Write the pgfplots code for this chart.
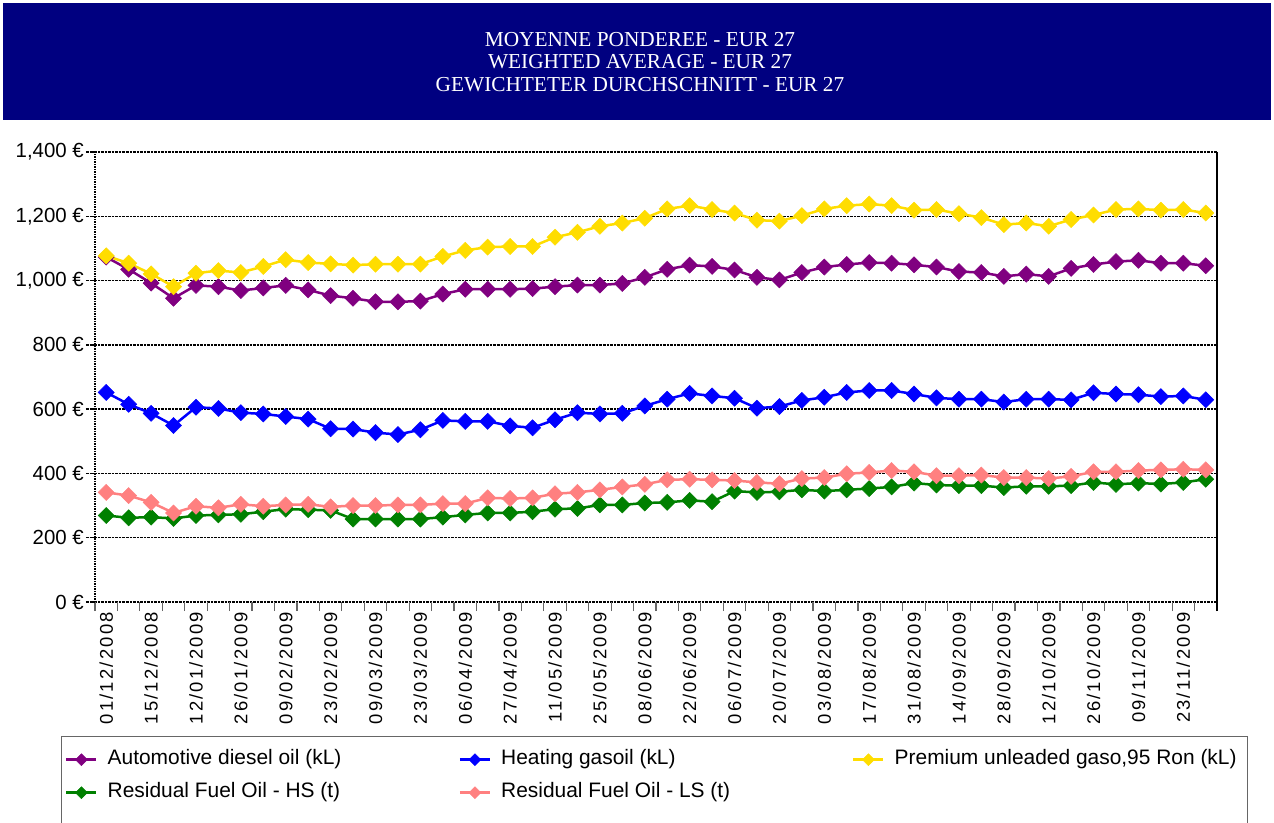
\documentclass[border=0pt]{standalone}
\usepackage{pgfplots}
\pgfplotsset{compat=1.18}
\usepackage{fontspec}
\setmainfont{Liberation Sans}
\newfontfamily\titlefont{Liberation Serif}
\newfontfamily\xlabfont[LetterSpace=12]{Liberation Sans}
\definecolor{navyc}{RGB}{0,0,128}
\definecolor{cdiesel}{RGB}{128,0,128}
\definecolor{cheat}{RGB}{0,0,255}
\definecolor{cprem}{RGB}{255,221,0}
\definecolor{chs}{RGB}{0,128,0}
\definecolor{cls}{RGB}{255,128,128}
\begin{document}
\begin{tikzpicture}
\useasboundingbox (0,0) rectangle (1274bp,823bp);
\fill[navyc] (3bp,703bp) rectangle (1271bp,820bp);
\node[text=white, font=\titlefont\fontsize{21.4}{22.5}\selectfont, align=center] at (640bp,761bp) {MOYENNE PONDEREE - EUR 27\\WEIGHTED AVERAGE - EUR 27\\GEWICHTETER DURCHSCHNITT - EUR 27};
\draw[black!60, line width=1bp] (61bp,0bp) -- (61bp,86bp) -- (1247bp,86bp) -- (1247bp,0bp);
\begin{axis}[
  at={(95bp,221bp)}, anchor=south west,
  width=1122bp, height=450bp, scale only axis,
  xmin=-0.5, xmax=49.5, ymin=0, ymax=1400,
  axis line style={draw=none},
  clip=false,
  /pgf/number format/assume math mode=true,
  ytick={0,200,...,1400},
  yticklabels={0~€,200~€,400~€,600~€,800~€,{1,000~€},{1,200~€},{1,400~€}},
  ytick pos=left,
  yticklabel style={font=\fontsize{20.5}{24}\selectfont, inner sep=2bp},
  xtick={0,2,...,48},
  xticklabels={01/12/2008,15/12/2008,12/01/2009,26/01/2009,09/02/2009,23/02/2009,09/03/2009,23/03/2009,06/04/2009,27/04/2009,11/05/2009,25/05/2009,08/06/2009,22/06/2009,06/07/2009,20/07/2009,03/08/2009,17/08/2009,31/08/2009,14/09/2009,28/09/2009,12/10/2009,26/10/2009,09/11/2009,23/11/2009},
  xtick pos=left,
  xticklabel style={rotate=90, anchor=east, font=\xlabfont\fontsize{18.5}{22}\selectfont, inner sep=1bp},
  minor xtick={-0.5,0.5,...,49.5},
  tick align=outside,
  major tick length=9bp, minor tick length=9bp,
  major x tick style={draw=none},
  minor x tick style={black!60, line width=1.2bp},
  y tick style={black, densely dotted, line width=1.5bp},
  ymajorgrids,
  major grid style={black, densely dotted, line width=1.5bp},
  legend columns=3,
  legend style={draw=none, fill=none, at={(-0.02674,-0.3289)}, anchor=north west,
     font=\fontsize{21}{24}\selectfont, inner sep=0pt, row sep=14bp,
     /tikz/every odd column/.append style={column sep=10bp},
     nodes={inner sep=0pt, text height=14bp, text depth=5bp}},
  legend image code/.code={\draw[mark repeat=2, mark phase=2, #1, mark size=4.2bp] plot coordinates {(0bp,0bp) (15bp,0bp) (30bp,0bp)};},
  every axis plot/.append style={line width=2.5bp, mark=square*, mark size=5.7bp, mark options={rotate=45, line width=0.5bp, solid}},
]
\draw[black, densely dotted, line width=1.5bp] (rel axis cs:0,0) -- (rel axis cs:0,1);
\draw[black, line width=1.2bp] ([yshift=-9bp]rel axis cs:1,0) -- (rel axis cs:1,1);

\addplot[cdiesel] coordinates {(0,1073) (1,1035) (2,992) (3,945) (4,985) (5,981) (6,969) (7,977) (8,985) (9,971) (10,953) (11,945) (12,934) (13,934) (14,936) (15,958) (16,973) (17,973) (18,973) (19,975) (20,981) (21,986) (22,986) (23,991) (24,1010) (25,1035) (26,1048) (27,1044) (28,1033) (29,1010) (30,1002) (31,1025) (32,1042) (33,1050) (34,1056) (35,1054) (36,1049) (37,1042) (38,1028) (39,1025) (40,1013) (41,1020) (42,1013) (43,1038) (44,1050) (45,1059) (46,1063) (47,1054) (48,1054) (49,1046)};
\addlegendentry{\makebox[351bp][l]{Automotive diesel oil (kL)}}

\addplot[cheat] coordinates {(0,652) (1,615) (2,587) (3,549) (4,606) (5,602) (6,589) (7,585) (8,577) (9,569) (10,539) (11,538) (12,527) (13,521) (14,536) (15,565) (16,562) (17,562) (18,548) (19,542) (20,567) (21,589) (22,585) (23,587) (24,610) (25,631) (26,649) (27,641) (28,634) (29,603) (30,608) (31,627) (32,637) (33,652) (34,658) (35,658) (36,647) (37,635) (38,631) (39,631) (40,622) (41,631) (42,631) (43,629) (44,651) (45,647) (46,645) (47,639) (48,641) (49,629)};
\addlegendentry{\makebox[351bp][l]{Heating gasoil (kL)}}

\addplot[cprem] coordinates {(0,1077) (1,1054) (2,1021) (3,981) (4,1023) (5,1031) (6,1025) (7,1044) (8,1065) (9,1056) (10,1052) (11,1048) (12,1051) (13,1051) (14,1051) (15,1075) (16,1094) (17,1104) (18,1106) (19,1106) (20,1135) (21,1150) (22,1169) (23,1179) (24,1194) (25,1223) (26,1233) (27,1221) (28,1210) (29,1188) (30,1185) (31,1202) (32,1223) (33,1233) (34,1238) (35,1233) (36,1219) (37,1221) (38,1208) (39,1196) (40,1174) (41,1179) (42,1169) (43,1190) (44,1204) (45,1221) (46,1223) (47,1219) (48,1221) (49,1210)};
\addlegendentry{Premium unleaded gaso,95 Ron (kL)}

\addplot[chs] coordinates {(0,269) (1,262) (2,264) (3,260) (4,269) (5,271) (6,273) (7,281) (8,289) (9,287) (10,285) (11,258) (12,258) (13,258) (14,258) (15,264) (16,271) (17,277) (18,277) (19,281) (20,289) (21,291) (22,302) (23,302) (24,308) (25,310) (26,316) (27,312) (28,345) (29,341) (30,343) (31,349) (32,345) (33,349) (34,353) (35,358) (36,370) (37,364) (38,362) (39,362) (40,356) (41,360) (42,360) (43,362) (44,372) (45,366) (46,370) (47,367) (48,372) (49,382)};
\addlegendentry{\makebox[351bp][l]{Residual Fuel Oil - HS (t)}}

\addplot[cls] coordinates {(0,341) (1,331) (2,310) (3,277) (4,298) (5,293) (6,304) (7,298) (8,302) (9,304) (10,296) (11,300) (12,300) (13,302) (14,302) (15,306) (16,306) (17,324) (18,322) (19,324) (20,337) (21,341) (22,349) (23,358) (24,366) (25,380) (26,382) (27,380) (28,378) (29,372) (30,368) (31,384) (32,387) (33,399) (34,403) (35,409) (36,405) (37,393) (38,393) (39,395) (40,387) (41,387) (42,384) (43,391) (44,405) (45,405) (46,409) (47,411) (48,413) (49,411)};
\addlegendentry{\makebox[351bp][l]{Residual Fuel Oil - LS (t)}}
\end{axis}
\end{tikzpicture}
\end{document}
